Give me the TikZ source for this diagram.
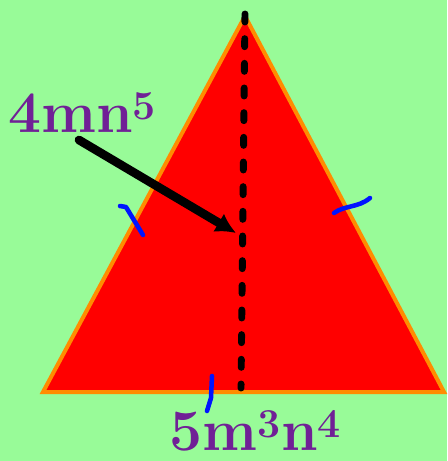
\documentclass[tikz,border=0pt]{standalone}
\usepackage{tikz}
\usetikzlibrary{arrows.meta}

\definecolor{bggreen}{RGB}{152,251,152}
\definecolor{edgeorange}{RGB}{255,140,0}
\definecolor{lblpurple}{RGB}{112,32,150}
\definecolor{tickblue}{RGB}{0,20,255}

\begin{document}
\begin{tikzpicture}[
    x=0.75pt, y=-0.75pt,
    tri/.style={fill=red, draw=edgeorange, line width=3pt, line join=miter},
    hgt/.style={black, line width=5.2pt, line cap=round, dash pattern=on 6pt off 12.5pt},
    arr/.style={-{Latex[length=15pt,width=16pt]}, black, line width=6.5pt, line cap=round},
    tick/.style={tickblue, line width=3.4pt, line cap=round, line join=round},
    lbl/.style={text=lblpurple, font=\fontsize{44}{44}\selectfont\bfseries, inner sep=0pt}
]
    % background
    \fill[bggreen] (0,0) rectangle (447,461);
    % triangle
    \coordinate (apex) at (245,16);
    \coordinate (bl) at (43,392);
    \coordinate (br) at (444,392);
    \draw[tri] (apex) -- (bl) -- (br) -- cycle;
    % height
    \coordinate (htop) at (245,14);
    \coordinate (hfoot) at (241,388);
    \draw[hgt] (htop) -- (hfoot);
    % equal side marks
    \draw[tick] (120,206) -- (126,207) -- (143,235);
    \draw[tick] (334,213) .. controls (345,205) and (358,208) .. (370,198);
    \draw[tick] (212,376) -- (211,398) -- (207,411);
    % labels
    \node[lbl, anchor=base west] (hlabel) at (8,132) {4mn\textsuperscript{5}};
    \node[lbl, anchor=base west] (blabel) at (169,450) {5m\textsuperscript{3}n\textsuperscript{4}};
    \coordinate (astart) at (79,140);
    \coordinate (aend) at (236,233);
    \draw[arr] (astart) -- (aend);
\end{tikzpicture}
\end{document}
